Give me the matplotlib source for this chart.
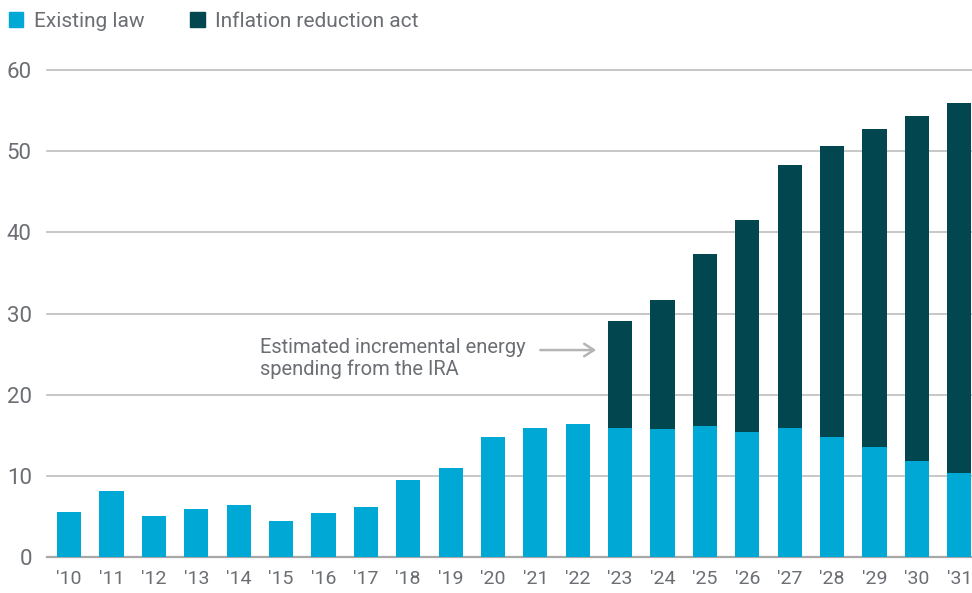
import matplotlib.pyplot as plt
from matplotlib.patches import Patch

plt.rcParams['font.family'] = ['Roboto', 'DejaVu Sans']

years = ["'10", "'11", "'12", "'13", "'14", "'15", "'16", "'17", "'18", "'19", "'20",
         "'21", "'22", "'23", "'24", "'25", "'26", "'27", "'28", "'29", "'30", "'31"]
existing = [5.5, 8.1, 5.0, 5.9, 6.4, 4.4, 5.4, 6.2, 9.5, 11.0, 14.8,
            15.9, 16.4, 15.9, 15.8, 16.2, 15.4, 15.9, 14.8, 13.6, 11.85, 10.4]
totals = [None] * 13 + [29.1, 31.7, 37.3, 41.5, 48.3, 50.7, 52.7, 54.3, 55.9]
ira = [0 if t is None else t - e for t, e in zip(totals, existing)]

light = '#00A8D6'
dark = '#02464F'
grey_text = '#6b6e73'

fig = plt.figure(figsize=(9.72, 5.93), dpi=100)
ax = fig.add_axes([0.0484, 0.0607, 0.9516, 0.8212])

x = range(len(years))
ax.bar(x, existing, width=0.57, color=light, zorder=3)
ax.bar(x, ira, width=0.57, bottom=existing, color=dark, zorder=3)

ax.set_ylim(0, 60)
ax.set_xlim(-0.52, 21.3)
ax.set_yticks([0, 10, 20, 30, 40, 50, 60])
ax.set_xticks(list(x))
ax.set_xticklabels(years)
ax.yaxis.grid(True, color='#bdbdbd', linewidth=1.2, zorder=0)
for gl in ax.get_ygridlines():
    gl.set_clip_on(False)
for s in ['top', 'right', 'left']:
    ax.spines[s].set_visible(False)
ax.spines['bottom'].set_color('#a8a8a8')
ax.spines['bottom'].set_linewidth(1.6)
ax.tick_params(axis='both', length=0, colors=grey_text)
ax.tick_params(axis='y', labelsize=16, pad=11)
ax.tick_params(axis='x', labelsize=14, pad=9)

# arrow + note pointing at the first IRA bar
ax.annotate('', xy=(12.5, 25.5), xytext=(11.05, 25.5),
            arrowprops=dict(arrowstyle='->,head_length=0.7,head_width=0.45',
                            color='#b5b5b5', lw=1.8))
ax.text(4.5, 27.0, 'Estimated incremental energy\nspending from the IRA',
        fontsize=14.5, color=grey_text, va='top', ha='left', linespacing=1.2)

handles = [Patch(color=light, label='Existing law'),
           Patch(color=dark, label='Inflation reduction act')]
leg = fig.legend(handles=handles, loc='upper left', bbox_to_anchor=(-0.006, 1.005),
                 ncol=2, frameon=False, fontsize=15, handlelength=0.7,
                 handleheight=0.7, handletextpad=0.5, columnspacing=2.2,
                 borderaxespad=0.3)
for t in leg.get_texts():
    t.set_color(grey_text)

fig.savefig('out.png', dpi=100)
